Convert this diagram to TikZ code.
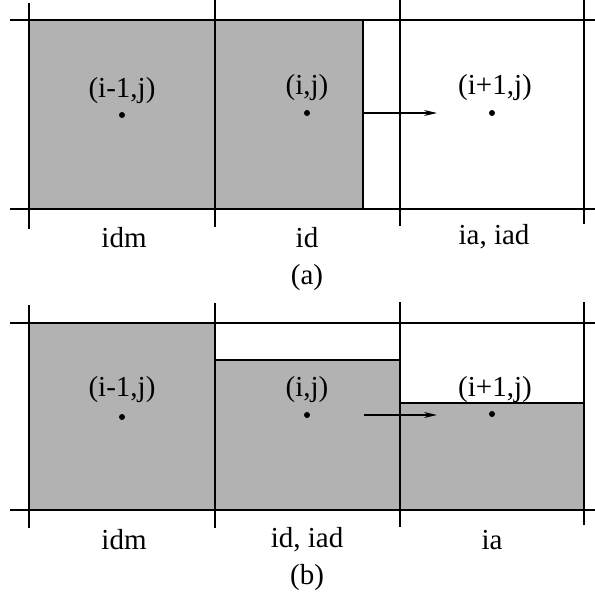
\documentclass[tikz,border=0pt]{standalone}
\usepackage{fontspec}
\setmainfont{Liberation Serif}
\usetikzlibrary{arrows.meta}
\begin{document}
\begin{tikzpicture}[
  x=0.5pt, y=-0.5pt,
  gridline/.style={line width=1pt},
  wet/.style={fill=black!30},
  celltext/.style={font=\fontsize{14.5}{17}\selectfont, inner sep=0pt},
  centre/.style={circle, fill, inner sep=0pt, minimum size=3pt},
  flux/.style={line width=0.7pt, -{Stealth[length=6.5pt,width=3pt]}}
]
  \useasboundingbox (0,0) rectangle (595,594);

  % (a)
  \fill[wet] (29,20) rectangle (363,209);
  \draw[gridline] (363,20) -- (363,209);
  \draw[gridline] (10,20) -- (595,20);
  \draw[gridline] (10,209) -- (595,209);
  \foreach \x/\t/\b in {29/3/229, 215/0/227, 400/0/226, 584/0/224}
    \draw[gridline] (\x,\t) -- (\x,\b);
  \node[celltext] (aim) at (122,91) {(i-1,j)};
  \node[celltext] (ai)  at (307,88) {(i,j)};
  \node[celltext] (aip) at (495,88) {(i+1,j)};
  \node[centre] (aimc) at (122,115) {};
  \node[centre] (aic)  at (307,113) {};
  \node[centre] (aipc) at (492,113) {};
  \coordinate (aout) at (363,113);
  \coordinate (atip) at (437,113);
  \draw[flux] (aout) -- (atip);
  \node[celltext] (aidm) at (124,238) {idm};
  \node[celltext] (aid)  at (307,238) {id};
  \node[celltext] (aia)  at (494,237) {ia, iad};
  \node[celltext] (acap) at (307,278) {(a)};

  % (b)
  \fill[wet] (29,323) rectangle (215,510);
  \fill[wet] (215,360) rectangle (400,510);
  \fill[wet] (400,403) rectangle (584,510);
  \draw[gridline] (215,360) -- (400,360);
  \draw[gridline] (400,403) -- (584,403);
  \draw[gridline] (10,323) -- (595,323);
  \draw[gridline] (10,510) -- (595,510);
  \foreach \x/\t/\b in {29/305/528, 215/303/528, 400/302/527, 584/302/525}
    \draw[gridline] (\x,\t) -- (\x,\b);
  \node[celltext] (bim) at (122,390) {(i-1,j)};
  \node[celltext] (bi)  at (307,390) {(i,j)};
  \node[celltext] (bip) at (495,390) {(i+1,j)};
  \node[centre] (bimc) at (122,417) {};
  \node[centre] (bic)  at (307,415) {};
  \node[centre] (bipc) at (492,414) {};
  \coordinate (bout) at (364,415);
  \coordinate (btip) at (437,415);
  \draw[flux] (bout) -- (btip);
  \node[celltext] (bidm) at (124,540) {idm};
  \node[celltext] (bid)  at (307,540) {id, iad};
  \node[celltext] (bia)  at (492,540) {ia};
  \node[celltext] (bcap) at (307,578) {(b)};
\end{tikzpicture}
\end{document}
